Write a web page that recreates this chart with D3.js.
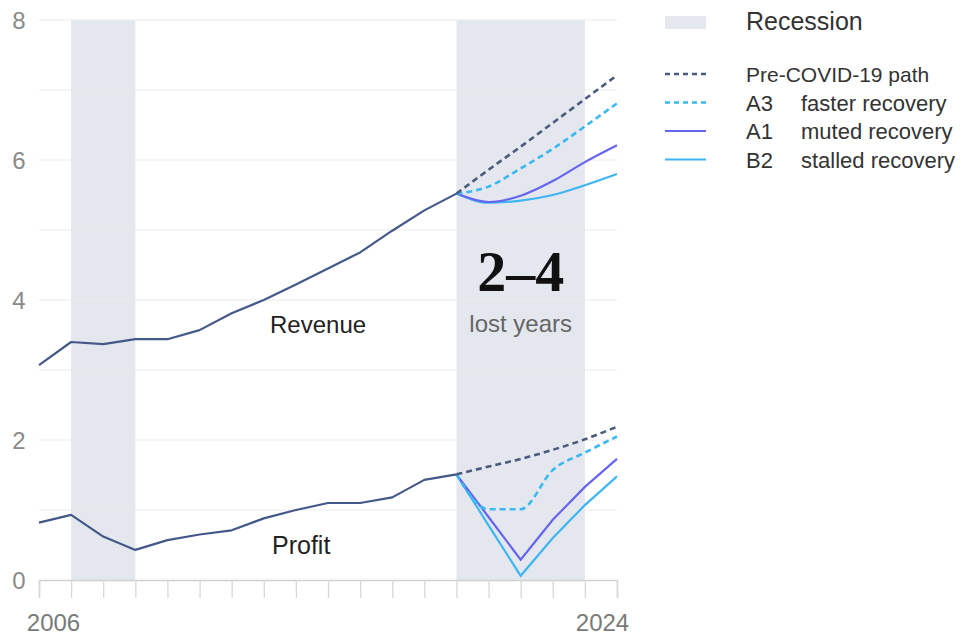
<!DOCTYPE html>
<html>
<head>
<meta charset="utf-8">
<script src="https://cdn.jsdelivr.net/npm/d3@7"></script>
<style>
body { margin: 0; background: #fff; }
svg { display: block; font-family: "Liberation Sans", Arial, sans-serif; }
</style>
</head>
<body>
<div id="canvas"></div>
<script>
// ----------------------------------------------------------
// DATA -----------------------------------------------------
// ----------------------------------------------------------
var years_hist = d3.range(2006, 2020);          // 2006 .. 2019
var years_scen = d3.range(2019, 2025);          // 2019 .. 2024
var year_labels = [2006, 2024];
var y_labels = [0, 2, 4, 6, 8];
var recessions = [[2007, 2009], [2019, 2023]];

var revenue_hist = [3.07, 3.40, 3.37, 3.44, 3.44, 3.57, 3.81, 4.00, 4.22, 4.45, 4.68, 4.99, 5.28, 5.52];
var profit_hist  = [0.82, 0.93, 0.62, 0.43, 0.57, 0.65, 0.71, 0.88, 1.00, 1.10, 1.10, 1.18, 1.43, 1.51];

var scenario_keys  = ["pre", "a3", "a1", "b2"];
var scenario_codes = ["", "A3", "A1", "B2"];
var scenario_names = ["Pre-COVID-19 path", "faster recovery", "muted recovery", "stalled recovery"];

var revenue_pre = [5.52, 5.86, 6.19, 6.53, 6.87, 7.21];
var revenue_a3  = [5.52, 5.62, 5.88, 6.16, 6.48, 6.81];
var revenue_a1  = [5.52, 5.40, 5.49, 5.70, 5.97, 6.21];
var revenue_b2  = [5.52, 5.39, 5.42, 5.50, 5.64, 5.80];

var profit_pre = [1.51, 1.62, 1.73, 1.86, 2.01, 2.19];
var profit_a3  = [1.51, 1.01, 1.01, 1.57, 1.82, 2.05];
var profit_a1  = [1.51, 0.90, 0.29, 0.86, 1.33, 1.73];
var profit_b2  = [1.51, 0.78, 0.06, 0.60, 1.07, 1.48];

var series_label = ["Revenue", "Profit"];

// ----------------------------------------------------------
// SETUP ----------------------------------------------------
// ----------------------------------------------------------
var width = 975, height = 638;
var color_line = "#44598a";
var color_rec = "#e4e7ee";
var colors = { pre: "#4b5b7e", a3: "#3ab8f0", a1: "#6565ee", b2: "#3fb6f2" };
var dashed = { pre: true, a3: true, a1: false, b2: false };

var svg = d3.select("#canvas").append("svg")
  .attr("width", width)
  .attr("height", height);

var x = d3.scaleLinear().domain([2006, 2024]).range([39, 617]);
var y = d3.scaleLinear().domain([0, 8]).range([580, 20]);

// recession bands
svg.append("g").selectAll("rect")
  .data(recessions)
  .join("rect")
  .attr("x", d => x(d[0]))
  .attr("y", y(8))
  .attr("width", d => x(d[1]) - x(d[0]))
  .attr("height", y(0) - y(8))
  .style("fill", color_rec);

// gridlines
svg.append("g").selectAll("line")
  .data(d3.range(1, 9))
  .join("line")
  .attr("x1", x(2006)).attr("x2", x(2024))
  .attr("y1", d => y(d)).attr("y2", d => y(d))
  .style("stroke", "#ececec")
  .style("stroke-width", 1.2);

// x axis
var x_axis = svg.append("g")
  .attr("transform", "translate(0," + y(0) + ")")
  .call(d3.axisBottom(x)
    .tickValues(d3.range(2006, 2025))
    .tickSize(18)
    .tickFormat(d => year_labels.indexOf(d) >= 0 ? d : ""));
x_axis.select(".domain").style("stroke", "#d0d0d0").style("stroke-width", 1.5);
x_axis.selectAll(".tick line").style("stroke", "#d8d8d8").style("stroke-width", 1.3);
x_axis.selectAll(".tick text")
  .attr("y", 34)
  .attr("dx", d => d === 2006 ? 14 : -15)
  .style("font-size", "24px")
  .style("font-family", "Liberation Sans, Arial, sans-serif")
  .style("fill", "#7a7a7a");

// y labels
svg.append("g").selectAll("text")
  .data(y_labels)
  .join("text")
  .attr("x", 19)
  .attr("y", d => y(d) + 9)
  .attr("text-anchor", "middle")
  .style("font-size", "24px")
  .style("fill", "#8a8a8a")
  .text(d => d);

// ----------------------------------------------------------
// LINES ----------------------------------------------------
// ----------------------------------------------------------
var line_lin = d3.line().x(d => x(d[0])).y(d => y(d[1]));
var line_smooth = d3.line().x(d => x(d[0])).y(d => y(d[1])).curve(d3.curveMonotoneX);

var scen = {
  revenue: { pre: revenue_pre, a3: revenue_a3, a1: revenue_a1, b2: revenue_b2 },
  profit: { pre: profit_pre, a3: profit_a3, a1: profit_a1, b2: profit_b2 }
};

var g_lines = svg.append("g");

["revenue", "profit"].forEach(function(s) {
  // draw in reverse order so pre-COVID sits on top of the others where they touch
  ["b2", "a1", "a3", "pre"].forEach(function(k) {
    var pts = years_scen.map((yr, i) => [yr, scen[s][k][i]]);
    var gen = (s === "profit" && (k === "a1" || k === "b2")) ? line_lin : line_smooth;
    g_lines.append("path")
      .attr("d", gen(pts))
      .style("fill", "none")
      .style("stroke", colors[k])
      .style("stroke-width", dashed[k] ? 2.6 : 2.2)
      .style("stroke-dasharray", dashed[k] ? "6,4" : null);
  });
});

[revenue_hist, profit_hist].forEach(function(vals) {
  g_lines.append("path")
    .attr("d", line_lin(years_hist.map((yr, i) => [yr, vals[i]])))
    .style("fill", "none")
    .style("stroke", color_line)
    .style("stroke-width", 2.2)
    .style("stroke-linejoin", "round");
});

// ----------------------------------------------------------
// TEXT -----------------------------------------------------
// ----------------------------------------------------------
svg.append("text")
  .attr("x", 270).attr("y", 333)
  .style("font-size", "24px").style("fill", "#222")
  .text(series_label[0]);
svg.append("text")
  .attr("x", 272).attr("y", 554)
  .style("font-size", "25px").style("fill", "#222")
  .text(series_label[1]);

svg.append("text")
  .attr("x", (x(2019) + x(2023)) / 2).attr("y", 291)
  .attr("text-anchor", "middle")
  .style("font-family", "Liberation Serif, serif")
  .style("font-weight", "bold")
  .style("font-size", "58px").style("fill", "#111")
  .text("2\u20134");
svg.append("text")
  .attr("x", (x(2019) + x(2023)) / 2).attr("y", 332)
  .attr("text-anchor", "middle")
  .style("font-size", "24px").style("fill", "#666")
  .text("lost years");

// ----------------------------------------------------------
// LEGEND ---------------------------------------------------
// ----------------------------------------------------------
var legend = svg.append("g");
legend.append("rect")
  .attr("x", 665).attr("y", 16).attr("width", 41).attr("height", 13)
  .style("fill", color_rec);
legend.append("text")
  .attr("x", 746).attr("y", 30)
  .style("font-size", "25px").style("fill", "#333")
  .text("Recession");

var rows = legend.selectAll(".row")
  .data(scenario_keys)
  .join("g")
  .attr("class", "row")
  .attr("transform", (d, i) => "translate(0," + (74 + i * 28.5) + ")");
rows.append("line")
  .attr("x1", 665).attr("x2", 706)
  .style("stroke", d => colors[d])
  .style("stroke-width", d => dashed[d] ? 2.6 : 2.2)
  .style("stroke-dasharray", d => dashed[d] ? "5,4" : null);
rows.append("text")
  .attr("x", 746).attr("y", 8)
  .style("font-size", d => d === "pre" ? "21px" : "22px").style("fill", "#333")
  .text((d, i) => i === 0 ? scenario_names[i] : scenario_codes[i]);
rows.filter((d, i) => i > 0).append("text")
  .attr("x", 801).attr("y", 8)
  .style("font-size", "22px").style("fill", "#333")
  .text(d => scenario_names[scenario_keys.indexOf(d)]);
</script>
</body>
</html>
